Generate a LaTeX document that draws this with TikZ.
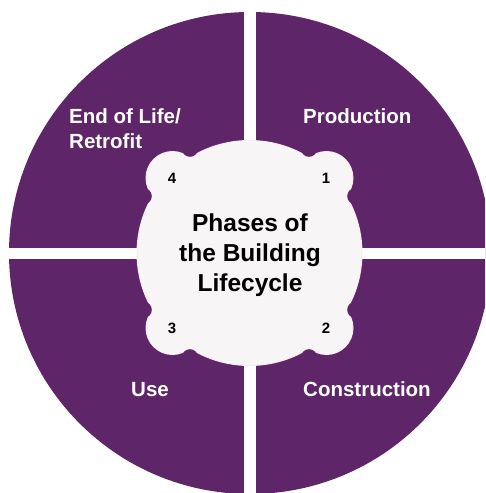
\documentclass[tikz,border=0pt]{standalone}
\usepackage{fontspec}
\usetikzlibrary{calc}
\setmainfont{Liberation Sans}
\definecolor{phasepurple}{HTML}{5E2568}
\definecolor{hubfill}{HTML}{F7F5F6}
\definecolor{hubline}{HTML}{FBEAF0}
\begin{document}
\begin{tikzpicture}[x=1pt,y=-1pt,
  quadlabel/.style={text=white,font=\bfseries\fontsize{20.5}{25}\selectfont,inner sep=0pt,anchor=base west},
  numlabel/.style={text=black,font=\bfseries\fontsize{15}{18}\selectfont,inner sep=0pt},
  hubtext/.style={text=black,font=\bfseries\fontsize{24.5}{30}\selectfont,align=center,inner sep=0pt},
  hubedge/.style={hubline,line width=2pt}]
\useasboundingbox (0,0) rectangle (485,493);
\clip (0,0) rectangle (485,493);
\fill[white] (0,0) rectangle (485,493);
% outer disc
\fill[phasepurple] (250,253) circle[radius=241];
% separating gaps
\fill[white] (244,0) rectangle (256,493);
\fill[white] (0,248) rectangle (485,259);
\coordinate (O) at (249.5,253);
% hub outline (union)
\draw[hubedge] (O) circle[radius=112];
\foreach \ph in {-44.25,44.25,135.75,224.25}
  \draw[hubedge] ($(O)+(\ph:107.49)$) circle[radius=26];
% hub fill
\fill[hubfill] (O) circle[radius=112];
\foreach \ph in {-44.25,44.25,135.75,224.25}
  \fill[hubfill] ($(O)+(\ph:107.49)$) circle[radius=26];
% concave fillets between bubbles and hub
\foreach \ph in {-44.25,44.25,135.75,224.25}{
  \foreach \s in {-16,16}{
    \coordinate (B) at ($(O)+(\ph:107.49)$);
    \coordinate (C) at ($(O)+(\ph+\s:120)$);
    \coordinate (T1) at ($(O)+(\ph+\s:112)$);
    \coordinate (T2) at ($(B)!0.7647!(C)$);
    \fill[hubfill] (C) -- (T1) -- (O) -- (B) -- (T2) -- cycle;
    \fill[phasepurple] (C) circle[radius=8];
  }
}
% labels
\node[quadlabel] (prod) at (303,123) {Production};
\node[quadlabel] (cons) at (303,396) {Construction};
\node[quadlabel] (use) at (131,396) {Use};
\node[quadlabel] (eol1) at (69,123) {End of Life/};
\node[quadlabel] (eol2) at (69,148) {Retrofit};
\node[numlabel] (n1) at (326,178) {1};
\node[numlabel] (n2) at (326,328) {2};
\node[numlabel] (n3) at (172,328) {3};
\node[numlabel] (n4) at (172,178) {4};
\node[hubtext] (hub) at (250,255.5) {Phases of\\the Building\\Lifecycle};
\end{tikzpicture}
\end{document}
